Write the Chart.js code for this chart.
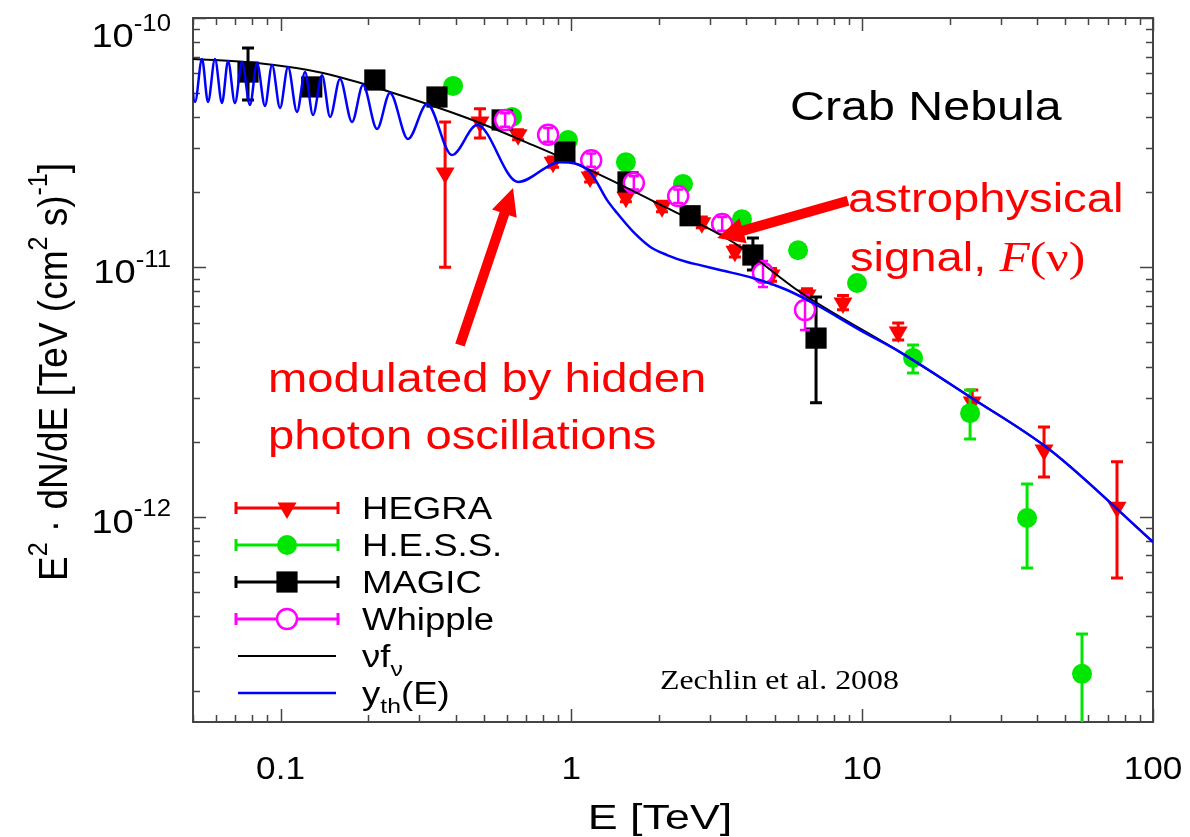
<!DOCTYPE html>
<html>
<head>
<meta charset="utf-8">
<title>Crab Nebula - hidden photon oscillations</title>
<script src="https://cdn.jsdelivr.net/npm/chart.js@4.4.1/dist/chart.umd.min.js"></script>
<style>
  html, body { margin: 0; padding: 0; background: #fff; overflow: hidden; }
  canvas { display: block; }
</style>
</head>
<body>
<canvas id="crab" width="1190" height="837"></canvas>
<script>
// --- data: E [TeV], E^2 dN/dE [TeV cm^-2 s^-1] ---
const hegraE  = [0.368, 0.485, 0.656, 0.865, 1.16, 1.54, 2.05, 2.81, 3.65, 4.86, 6.46, 8.59, 13.3, 23.9, 42.2, 75.2];
const hegraF  = [2.39e-11, 3.83e-11, 3.40e-11, 2.64e-11, 2.30e-11, 1.91e-11, 1.75e-11, 1.51e-11, 1.16e-11, 9.31e-12, 7.74e-12, 7.19e-12, 5.50e-12, 2.88e-12, 1.85e-12, 1.09e-12];
const hegraLo = [1.00e-11, 3.30e-11, 3.25e-11, 2.52e-11, 2.20e-11, 1.83e-11, 1.67e-11, 1.44e-11, 1.10e-11, 8.80e-12, 7.30e-12, 6.75e-12, 5.11e-12, 2.68e-12, 1.44e-12, 5.67e-13];
const hegraHi = [3.83e-11, 4.32e-11, 3.56e-11, 2.77e-11, 2.41e-11, 2.00e-11, 1.84e-11, 1.59e-11, 1.22e-11, 9.90e-12, 8.20e-12, 7.70e-12, 5.98e-12, 3.22e-12, 2.29e-12, 1.66e-12];

const hessE  = [0.392, 0.625, 0.974, 1.54, 2.42, 3.86, 6.02, 9.60, 14.96, 23.5, 36.9, 57.0];
const hessF  = [5.34e-11, 4.01e-11, 3.24e-11, 2.64e-11, 2.16e-11, 1.56e-11, 1.17e-11, 8.65e-12, 4.33e-12, 2.60e-12, 9.87e-13, 2.34e-13];
const hessLo = [5.20e-11, 3.90e-11, 3.15e-11, 2.57e-11, 2.10e-11, 1.52e-11, 1.14e-11, 8.40e-12, 3.77e-12, 2.05e-12, 6.22e-13, 1.40e-13];
const hessHi = [5.50e-11, 4.10e-11, 3.33e-11, 2.71e-11, 2.22e-11, 1.60e-11, 1.20e-11, 8.90e-12, 4.88e-12, 3.22e-12, 1.35e-12, 3.38e-13];

const magicE  = [0.0773, 0.128, 0.211, 0.345, 0.578, 0.95, 1.566, 2.56, 4.21, 6.94];
const magicF  = [6.07e-11, 5.29e-11, 5.64e-11, 4.82e-11, 3.90e-11, 2.90e-11, 2.20e-11, 1.61e-11, 1.12e-11, 5.20e-12];
const magicLo = [4.69e-11, 5.10e-11, 5.45e-11, 4.65e-11, 3.78e-11, 2.80e-11, 2.12e-11, 1.55e-11, 9.76e-12, 2.86e-12];
const magicHi = [7.58e-11, 5.50e-11, 5.85e-11, 5.00e-11, 4.02e-11, 3.00e-11, 2.28e-11, 1.68e-11, 1.31e-11, 7.60e-12];

const whipE  = [0.592, 0.832, 1.17, 1.64, 2.33, 3.30, 4.56, 6.36];
const whipF  = [3.90e-11, 3.40e-11, 2.69e-11, 2.18e-11, 1.93e-11, 1.49e-11, 9.49e-12, 6.74e-12];
const whipLo = [3.66e-11, 3.19e-11, 2.53e-11, 2.05e-11, 1.81e-11, 1.40e-11, 8.34e-12, 5.60e-12];
const whipHi = [4.15e-11, 3.62e-11, 2.86e-11, 2.32e-11, 2.05e-11, 1.59e-11, 1.06e-11, 7.74e-12];

// astrophysical signal (black) and modulated curve (blue)
const nufnuE = [0.05, 0.083, 0.140, 0.238, 0.438, 0.738, 1.255, 2.13, 3.60, 6.11, 13.5, 23.5, 44.3, 100];
const nufnuF = [6.85e-11, 6.60e-11, 6.02e-11, 5.05e-11, 3.97e-11, 3.09e-11, 2.35e-11, 1.73e-11, 1.26e-11, 7.96e-12, 4.57e-12, 3.02e-12, 1.85e-12, 7.91e-13];

const ythE = [0.0487, 0.0508, 0.0537, 0.0563, 0.0595, 0.0629, 0.0660, 0.0697, 0.0737, 0.0785,
              0.0830, 0.0884, 0.0935, 0.0996, 0.1061, 0.1139, 0.1214, 0.1293, 0.1389, 0.1480,
              0.1601, 0.1761, 0.1921, 0.2146, 0.2378, 0.2743, 0.3189, 0.3887, 0.4739, 0.6555,
              0.9142, 1.159, 1.327, 1.436, 1.630, 1.864, 2.133, 2.499, 2.770, 3.245,
              4.214, 5.514, 6.776, 9.831, 13.50, 23.49, 44.26, 100];
const ythF = [6.85e-11, 4.60e-11, 6.85e-11, 4.60e-11, 6.85e-11, 4.56e-11, 6.72e-11, 4.56e-11, 6.66e-11, 4.48e-11,
              6.60e-11, 4.44e-11, 6.48e-11, 4.36e-11, 6.36e-11, 4.20e-11, 6.07e-11, 4.08e-11, 5.90e-11, 4.01e-11,
              5.69e-11, 3.83e-11, 5.38e-11, 3.59e-11, 5.00e-11, 3.27e-11, 4.52e-11, 2.82e-11, 3.72e-11, 2.20e-11,
              2.64e-11, 2.41e-11, 1.86e-11, 1.65e-11, 1.39e-11, 1.21e-11, 1.12e-11, 1.05e-11, 1.02e-11, 9.75e-12,
              9.06e-12, 8.11e-12, 7.19e-12, 5.60e-12, 4.57e-12, 3.02e-12, 1.85e-12, 7.91e-13];

// axes
const xMin = 0.05, xMax = 100;
const yMin = 1.5e-13, yMax = 1e-10;
const xTickVals = [0.1, 1, 10, 100];
const xTickText = ['0.1', '1', '10', '100'];
const yTickVals = [1e-12, 1e-11, 1e-10];
const yTickExp  = ['-12', '-11', '-10'];

// annotation arrows (data coordinates: from -> to)
const arrowHidden = [[0.414, 4.88e-12], [0.630, 2.08e-11]];
const arrowSignal = [[8.94, 1.85e-11], [3.17, 1.31e-11]];

const RED = '#ff0000', GREEN = '#00e600', MAGENTA = '#ff00ff', BLUE = '#0000ff';
const SANS = '"Liberation Sans", Arial, Helvetica, sans-serif';
const SERIF = '"Liberation Serif", "Times New Roman", serif';
const SX = 1.18; // the figure is slightly stretched horizontally

const pts = (xs, ys) => xs.map((x, i) => ({ x, y: ys[i] }));

// --- helpers ---
function richText(ctx, runs, x, y, o) {
  runs = runs.map(r => typeof r === 'string' ? { t: r } : Object.assign({}, r));
  ctx.save();
  ctx.translate(x, y);
  if (o.rot) ctx.rotate(o.rot);
  ctx.scale(o.sx || 1, o.sy || 1);
  ctx.fillStyle = o.color || '#000';
  ctx.textBaseline = 'alphabetic';
  ctx.textAlign = 'left';
  const font = r => (r.style ? r.style + ' ' : '') + Math.round(o.size * (r.k || 1)) + 'px ' + (r.family || o.family || SANS);
  let total = 0;
  runs.forEach(r => { ctx.font = font(r); r.w = ctx.measureText(r.t).width; total += r.w; });
  let cx = o.align === 'right' ? -total : o.align === 'center' ? -total / 2 : 0;
  runs.forEach(r => { ctx.font = font(r); ctx.fillText(r.t, cx, (r.dy || 0) * o.size); cx += r.w; });
  ctx.restore();
}
const sup = t => ({ t, k: 0.68, dy: -0.48 });
const sub = t => ({ t, k: 0.68, dy: 0.3 });

function arrow(ctx, x0, y0, x1, y1, shaft, headLen, headW) {
  const ang = Math.atan2(y1 - y0, x1 - x0);
  const len = Math.hypot(x1 - x0, y1 - y0);
  ctx.save();
  ctx.translate(x0, y0);
  ctx.rotate(ang);
  ctx.beginPath();
  ctx.moveTo(0, -shaft / 2);
  ctx.lineTo(len - headLen, -shaft / 2);
  ctx.lineTo(len - headLen, -headW / 2);
  ctx.lineTo(len, 0);
  ctx.lineTo(len - headLen, headW / 2);
  ctx.lineTo(len - headLen, shaft / 2);
  ctx.lineTo(0, shaft / 2);
  ctx.closePath();
  ctx.fill();
  ctx.restore();
}

function drawErrors(chart, index) {
  const ds = chart.data.datasets[index];
  if (!ds.errLo) return;
  const xs = chart.scales.x, ys = chart.scales.y, a = chart.chartArea, ctx = chart.ctx;
  ctx.save();
  ctx.beginPath();
  ctx.rect(a.left, a.top, a.right - a.left, a.bottom - a.top);
  ctx.clip();
  ctx.strokeStyle = ds.errColor;
  ctx.lineWidth = ds.errWidth;
  ds.data.forEach((p, i) => {
    const px = xs.getPixelForValue(p.x);
    const y0 = ys.getPixelForValue(ds.errLo[i]);
    const y1 = ys.getPixelForValue(ds.errHi[i]);
    ctx.beginPath();
    ctx.moveTo(px, y0); ctx.lineTo(px, y1);
    ctx.moveTo(px - ds.cap, y0); ctx.lineTo(px + ds.cap, y0);
    ctx.moveTo(px - ds.cap, y1); ctx.lineTo(px + ds.cap, y1);
    ctx.stroke();
  });
  ctx.restore();
}

const errorBars = {
  id: 'errorBars',
  beforeDatasetDraw(chart, args) { if (!chart.data.datasets[args.index].errOnTop) drawErrors(chart, args.index); },
  afterDatasetDraw(chart, args) { if (chart.data.datasets[args.index].errOnTop) drawErrors(chart, args.index); }
};

const frame = {
  id: 'frame',
  beforeDatasetsDraw(chart) {
    const ctx = chart.ctx, a = chart.chartArea, xs = chart.scales.x, ys = chart.scales.y;
    ctx.save();
    ctx.strokeStyle = '#444';
    ctx.lineWidth = 1.5;
    ctx.beginPath();
    for (let d = 0.01; d < 1000; d *= 10) {
      for (let k = 1; k <= 9; k++) {
        const v = k * d;
        if (v < xMin * 0.999 || v > xMax * 1.001) continue;
        const px = Math.round(xs.getPixelForValue(v)) + 0.5;
        const L = k === 1 ? 13 : 7;
        ctx.moveTo(px, a.bottom); ctx.lineTo(px, a.bottom - L);
        ctx.moveTo(px, a.top); ctx.lineTo(px, a.top + L);
      }
    }
    for (let d = 1e-13; d < 1e-9; d *= 10) {
      for (let k = 1; k <= 9; k++) {
        const v = k * d;
        if (v < yMin * 0.999 || v > yMax * 1.001) continue;
        const py = Math.round(ys.getPixelForValue(v)) + 0.5;
        const L = k === 1 ? 13 : 7;
        ctx.moveTo(a.left, py); ctx.lineTo(a.left + L, py);
        ctx.moveTo(a.right, py); ctx.lineTo(a.right - L, py);
      }
    }
    ctx.stroke();
    ctx.lineWidth = 2;
    ctx.strokeRect(a.left, a.top, a.right - a.left, a.bottom - a.top);
    ctx.restore();
  }
};

const decor = {
  id: 'decor',
  afterDraw(chart) {
    const ctx = chart.ctx, xs = chart.scales.x, ys = chart.scales.y;

    // tick labels
    xTickVals.forEach((v, i) => {
      richText(ctx, [xTickText[i]], xs.getPixelForValue(v), 779, { size: 32, align: 'center', sx: 1.1 });
    });
    yTickVals.forEach((v, i) => {
      const base = Math.max(ys.getPixelForValue(v) + 16, 47);
      richText(ctx, ['10', sup(yTickExp[i])], 171, base, { size: 34, align: 'right', sx: 1.12 });
    });

    // axis titles
    richText(ctx, ['E [TeV]'], 660, 829, { size: 35, align: 'center', sx: 1.28 });
    richText(ctx, ['E', sup('2'), ' \u00b7 dN/dE [TeV (cm', sup('2'), ' s)', sup('-1'), ']'],
      67, 372, { size: 37, align: 'center', rot: -Math.PI / 2, sy: 1.1 });

    // legend
    const rows = [
      { runs: ['HEGRA'], color: RED, mk: { pointStyle: 'triangle', rotation: 180, radius: 11, borderWidth: 0 }, fill: RED },
      { runs: ['H.E.S.S.'], color: GREEN, mk: { pointStyle: 'circle', radius: 10, borderWidth: 0 }, fill: GREEN },
      { runs: ['MAGIC'], color: '#000', mk: { pointStyle: 'rect', radius: 15, borderWidth: 0 }, fill: '#000' },
      { runs: ['Whipple'], color: MAGENTA, mk: { pointStyle: 'circle', radius: 10, borderWidth: 2.5 }, fill: '#fff' },
      { runs: ['\u03bdf', sub('\u03bd')], color: '#000', line: 2 },
      { runs: ['y', sub('th'), '(E)'], color: BLUE, line: 2.5 }
    ];
    rows.forEach((r, i) => {
      const y = 508 + i * 37;
      ctx.save();
      ctx.strokeStyle = r.color;
      if (r.mk) {
        ctx.lineWidth = 3;
        ctx.beginPath();
        ctx.moveTo(236, y); ctx.lineTo(338, y);
        ctx.moveTo(236, y - 6); ctx.lineTo(236, y + 6);
        ctx.moveTo(338, y - 6); ctx.lineTo(338, y + 6);
        ctx.stroke();
        ctx.fillStyle = r.fill;
        ctx.lineWidth = r.mk.borderWidth;
        Chart.helpers.drawPoint(ctx, r.mk, 287, y);
      } else {
        ctx.lineWidth = r.line;
        ctx.beginPath();
        ctx.moveTo(238, y); ctx.lineTo(336, y);
        ctx.stroke();
      }
      ctx.restore();
      richText(ctx, r.runs, 362, y + 11, { size: 31, sx: SX });
    });

    // annotations
    richText(ctx, ['Crab Nebula'], 790, 120, { size: 41, sx: SX });
    richText(ctx, ['Zechlin et al. 2008'], 660, 689, { size: 27, sx: SX, family: SERIF });
    richText(ctx, ['astrophysical'], 848, 212, { size: 40, sx: SX, color: RED });
    richText(ctx, ['signal, ', { t: 'F', style: 'italic', family: SERIF, k: 1.05 }, { t: '(\u03bd)', family: SERIF, k: 1.05 }],
      850, 271, { size: 40, sx: SX, color: RED });
    richText(ctx, ['modulated by hidden'], 268, 392, { size: 40, sx: SX, color: RED });
    richText(ctx, ['photon oscillations'], 268, 449, { size: 40, sx: SX, color: RED });

    ctx.save();
    ctx.fillStyle = RED;
    [arrowHidden, arrowSignal].forEach(ar => {
      arrow(ctx,
        xs.getPixelForValue(ar[0][0]), ys.getPixelForValue(ar[0][1]),
        xs.getPixelForValue(ar[1][0]), ys.getPixelForValue(ar[1][1]),
        10, 27, 26);
    });
    ctx.restore();
  }
};

new Chart(document.getElementById('crab').getContext('2d'), {
  type: 'scatter',
  data: {
    datasets: [
      { label: 'y_th(E)', data: pts(ythE, ythF), showLine: true, pointRadius: 0, borderColor: BLUE, borderWidth: 2.5,
        cubicInterpolationMode: 'monotone', order: 0 },
      { label: 'nu f_nu', data: pts(nufnuE, nufnuF), showLine: true, pointRadius: 0, borderColor: '#000', borderWidth: 2,
        cubicInterpolationMode: 'monotone', order: 1 },
      { label: 'Whipple', data: pts(whipE, whipF), pointStyle: 'circle', pointRadius: 10, backgroundColor: '#fff',
        borderColor: MAGENTA, borderWidth: 2.5, order: 2,
        errLo: whipLo, errHi: whipHi, errColor: MAGENTA, errWidth: 2.5, cap: 5, errOnTop: true },
      { label: 'MAGIC', data: pts(magicE, magicF), pointStyle: 'rect', pointRadius: 15, backgroundColor: '#000',
        borderWidth: 0, order: 3, errLo: magicLo, errHi: magicHi, errColor: '#000', errWidth: 3, cap: 6 },
      { label: 'H.E.S.S.', data: pts(hessE, hessF), pointStyle: 'circle', pointRadius: 10, backgroundColor: GREEN,
        borderWidth: 0, order: 4, errLo: hessLo, errHi: hessHi, errColor: GREEN, errWidth: 3, cap: 6 },
      { label: 'HEGRA', data: pts(hegraE, hegraF), pointStyle: 'triangle', rotation: 180, pointRadius: 11,
        backgroundColor: RED, borderWidth: 0, order: 5, errLo: hegraLo, errHi: hegraHi, errColor: RED, errWidth: 3, cap: 6 }
    ]
  },
  options: {
    responsive: false,
    animation: false,
    layout: { padding: { top: 18, right: 37, left: 0, bottom: 0 } },
    plugins: { legend: { display: false }, tooltip: { enabled: false } },
    scales: {
      x: {
        type: 'logarithmic', min: xMin, max: xMax,
        grid: { display: false }, border: { display: false }, ticks: { display: false },
        afterFit: s => { s.height = 115; }
      },
      y: {
        type: 'logarithmic', min: yMin, max: yMax,
        grid: { display: false }, border: { display: false }, ticks: { display: false },
        afterFit: s => { s.width = 193; }
      }
    }
  },
  plugins: [frame, errorBars, decor]
});
</script>
</body>
</html>
